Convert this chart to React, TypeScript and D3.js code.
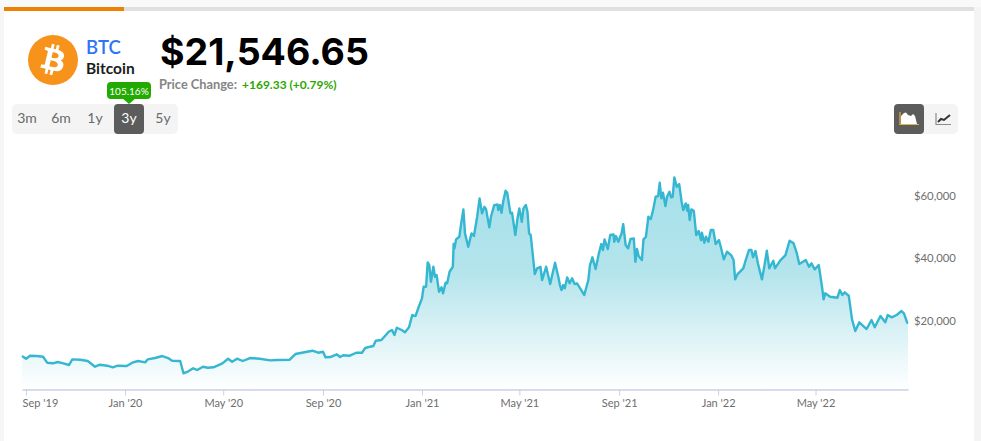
// @ts-nocheck
import React, { useEffect, useRef } from 'react';
import * as d3 from 'd3'

const FONT = "Lato, 'Open Sans', sans-serif"
const BIG_FONT = "Inter, Lato, sans-serif"
const BTC_PATH = "M46.11 27.441c.636-4.258-2.606-6.547-7.039-8.074l1.438-5.768-3.511-.875-1.4 5.616c-.923-.23-1.871-.447-2.813-.662l1.41-5.653-3.509-.875-1.439 5.766c-.764-.174-1.514-.346-2.242-.527l.004-.018-4.842-1.209-.934 3.75s2.605.597 2.55.634c1.422.355 1.679 1.296 1.636 2.042l-1.638 6.571c.098.025.225.061.365.117-.117-.029-.242-.061-.371-.092l-2.296 9.205c-.174.432-.615 1.08-1.609.834.035.051-2.552-.637-2.552-.637l-1.743 4.019 4.569 1.139c.85.213 1.683.436 2.503.646l-1.453 5.834 3.507.875 1.439-5.772c.958.26 1.888.5 2.798.726l-1.434 5.745 3.511.875 1.453-5.823c5.987 1.133 10.489.676 12.384-4.739 1.527-4.36-.076-6.875-3.226-8.515 2.294-.529 4.022-2.038 4.483-5.155zM38.09 38.69c-1.085 4.36-8.426 2.003-10.806 1.412l1.928-7.729c2.38.594 10.013 1.77 8.878 6.317zm1.086-11.312c-.99 3.966-7.1 1.951-9.082 1.457l1.748-7.01c1.982.494 8.367 1.416 7.334 5.553z"

const startDate = new Date(2019, 7, 27)
const endDay = 1092

// days since startDate
const days = [
    0, 5, 10, 18, 26, 31, 38, 44, 51, 58, 62, 72, 81, 90, 96, 105, 112, 118, 129, 136,
    143, 152, 155, 164, 173, 180, 185, 195, 199, 205, 211, 216, 223, 229, 236, 247, 254, 259, 265, 272,
    281, 293, 306, 314, 330, 337, 345, 358, 365, 371, 374, 380, 388, 392, 396, 404, 412, 419, 423, 429,
    433, 436, 443, 452, 456, 459, 462, 468, 472, 477, 481, 485, 489, 493, 495, 498, 500, 502, 504, 507,
    509, 511, 514, 517, 519, 522, 524, 527, 531, 532, 533, 535, 539, 541, 544, 546, 550, 554, 557, 561,
    564, 567, 570, 572, 576, 578, 582, 586, 587, 589, 591, 593, 596, 598, 602, 604, 608, 611, 613, 616,
    618, 621, 623, 625, 627, 630, 632, 635, 639, 641, 646, 651, 654, 657, 661, 663, 665, 667, 669, 672,
    675, 678, 681, 684, 688, 693, 698, 700, 703, 707, 711, 714, 716, 718, 722, 725, 729, 730, 732, 735,
    739, 741, 744, 747, 750, 754, 756, 758, 760, 764, 766, 769, 772, 775, 778, 781, 784, 786, 788, 790,
    793, 795, 798, 800, 802, 804, 807, 810, 813, 815, 818, 820, 821, 823, 825, 828, 831, 834, 837, 838,
    841, 843, 846, 849, 852, 855, 859, 861, 865, 869, 874, 877, 879, 882, 889, 892, 896, 899, 901, 904,
    907, 912, 915, 918, 921, 926, 928, 935, 941, 946, 951, 955, 958, 966, 970, 973, 977, 982, 986, 988,
    990, 996, 1005, 1008, 1011, 1014, 1019, 1023, 1027, 1032, 1041, 1047, 1051, 1058, 1064, 1067, 1072, 1078, 1084, 1087,
    1091, 1092,
]

const prices = [
    10740, 9880, 10840, 10740, 10520, 8600, 8400, 8820, 8400, 7860, 9680, 9560, 9140, 7310, 7950, 7630, 7120, 7630, 7540, 8600,
    9140, 8720, 9680, 10100, 10740, 10100, 9240, 9140, 5200, 5840, 6800, 6250, 7310, 6990, 7120, 8400, 9880, 8920, 9880, 9140,
    10100, 9880, 9360, 9460, 9560, 11380, 11800, 12440, 11800, 12120, 10330, 10420, 11290, 10420, 10970, 10840, 11800, 11800, 13310, 13730,
    13950, 15650, 15870, 18540, 19080, 17480, 19820, 19080, 18340, 19950, 23890, 23570, 26550, 29250, 32970, 32970, 40790, 39930, 34570, 39380,
    36180, 36720, 31360, 32780, 30850, 34250, 34060, 37780, 39380, 46660, 45280, 48170, 49000, 52760, 57790, 50090, 45800, 50090, 49230, 55420,
    61320, 56510, 58620, 57790, 52020, 55420, 59170, 59390, 57560, 59170, 56700, 60230, 63760, 63110, 56510, 56700, 49550, 55420, 58110, 53810,
    58110, 59170, 57020, 50090, 49550, 42080, 37040, 38870, 39380, 35120, 39380, 33830, 37270, 40660, 36180, 33510, 31910, 33510, 32450, 35980,
    34060, 35660, 33830, 34060, 32450, 30310, 35120, 39930, 42400, 38640, 43680, 46660, 44740, 48170, 45060, 49550, 49770, 47400, 49230, 47400,
    50090, 53070, 46340, 45280, 48270, 48490, 40990, 45060, 42810, 41530, 48170, 49000, 55420, 54680, 57790, 61830, 62060, 66320, 61320, 63110,
    58850, 61830, 63430, 61640, 61830, 68050, 65040, 65900, 60230, 57560, 59710, 57340, 59170, 54360, 57790, 57340, 49550, 50830, 47940, 50290,
    47080, 49000, 47400, 51150, 51150, 46660, 47940, 46020, 41750, 44190, 43130, 41530, 35340, 37040, 38870, 41530, 44740, 44740, 42400, 44420,
    40470, 35340, 39610, 44510, 38870, 41310, 38870, 41530, 43130, 47720, 46890, 43680, 40250, 41530, 39380, 40470, 38550, 39930, 32970, 28930,
    30850, 29760, 29440, 31910, 30310, 31170, 30080, 22510, 18760, 21550, 19400, 22290, 19950, 23570, 21550, 23890, 23150, 23890, 25170, 24440,
    21420, 21550,
]

const xTicks = [new Date(2019, 8, 1), new Date(2020, 0, 1), new Date(2020, 4, 1), new Date(2020, 8, 1), new Date(2021, 0, 1), new Date(2021, 4, 1), new Date(2021, 8, 1), new Date(2022, 0, 1), new Date(2022, 4, 1)]
const yTicks = [20000, 40000, 60000]
const ranges = ["3m", "6m", "1y", "3y", "5y"]

export default function App() {
    const ref = useRef(null)

    useEffect(() => {
        const svg = d3.select(ref.current)
        svg.selectAll("*").remove()

        const data = days.map((d, i) => ({ date: d3.timeDay.offset(startDate, d), price: prices[i] }))

        const x = d3.scaleTime().domain([startDate, d3.timeDay.offset(startDate, endDay)]).range([22, 908])
        const y = d3.scaleLinear().domain([0, 70000]).range([389.5, 171.3])

        const grad = svg.append("defs").append("linearGradient")
            .attr("id", "areaFill")
            .attr("gradientUnits", "userSpaceOnUse")
            .attr("x1", 0).attr("x2", 0).attr("y1", y(68000)).attr("y2", y(0))
        grad.append("stop").attr("offset", "0%").attr("stop-color", "#a6e0ea")
        grad.append("stop").attr("offset", "45%").attr("stop-color", "#b4e4ec")
        grad.append("stop").attr("offset", "100%").attr("stop-color", "#ffffff")

        // card
        svg.append("rect").attr("width", 981).attr("height", 441).attr("fill", "#ffffff")
        svg.append("rect").attr("x", 0).attr("width", 4).attr("y", 6).attr("height", 435).attr("fill", "#f6f6f6")
        svg.append("rect").attr("x", 974).attr("width", 7).attr("y", 0).attr("height", 441).attr("fill", "#f4f4f4")
        svg.append("rect").attr("x", 0).attr("y", 0).attr("width", 981).attr("height", 7).attr("fill", "#f9f9f9")
        svg.append("rect").attr("x", 4).attr("y", 7).attr("width", 970).attr("height", 4).attr("fill", "#e0e0e0")
        svg.append("rect").attr("x", 4).attr("y", 7).attr("width", 120).attr("height", 4).attr("fill", "#ec8106")

        // coin + name
        svg.append("circle").attr("cx", 53).attr("cy", 60).attr("r", 25).attr("fill", "#f7931a")
        svg.append("path").attr("d", BTC_PATH).attr("fill", "#ffffff")
            .attr("transform", "translate(28,35) scale(0.78)")

        const text = (str, px, py, size, weight, color, anchor = "start", family = FONT) =>
            svg.append("text").text(str).attr("x", px).attr("y", py)
                .attr("font-family", family).attr("font-size", size).attr("font-weight", weight)
                .attr("fill", color).attr("text-anchor", anchor)

        text("BTC", 86, 53.5, 18.5, 600, "#2f74f5")
        text("Bitcoin", 86, 74, 15.5, 700, "#1c1c1c")
        text("$21,546.65", 160, 65, 37.5, 700, "#000000", "start", BIG_FONT)
        text("Price Change:", 159, 89, 12.8, 700, "#858585")
        text("+169.33 (+0.79%)", 242, 89, 12, 700, "#2ca600")

        // range buttons
        svg.append("rect").attr("x", 12).attr("y", 104).attr("width", 166).attr("height", 30).attr("rx", 5).attr("fill", "#f4f4f4")
        svg.append("rect").attr("x", 114).attr("y", 104).attr("width", 30).attr("height", 30).attr("rx", 4).attr("fill", "#5c5c5c")
        ranges.forEach((r, i) => text(r, 27 + i * 34, 123, 14, 400, r === "3y" ? "#ffffff" : "#6a6a6a", "middle"))

        // percent badge
        svg.append("path").attr("d", "M122,98 L129,104 L136,98 Z").attr("fill", "#22aa00")
        svg.append("rect").attr("x", 107).attr("y", 82).attr("width", 44).attr("height", 17).attr("rx", 4).attr("fill", "#22aa00")
        text("105.16%", 129, 94.5, 10, 400, "#ffffff", "middle")

        // chart type buttons
        svg.append("rect").attr("x", 894).attr("y", 104).attr("width", 64).attr("height", 30).attr("rx", 5).attr("fill", "#f4f4f4")
        svg.append("rect").attr("x", 894).attr("y", 104).attr("width", 30).attr("height", 30).attr("rx", 4).attr("fill", "#5c5c5c")
        svg.append("path").attr("d", "M901,124 L901,116 L904,113 L906,112.5 L908,115 L911,116 L913,114 L915,116 L917,124 Z").attr("fill", "#ffffff")
        svg.append("path").attr("d", "M900,112 V124.5 H919").attr("fill", "none").attr("stroke", "#e8b24a").attr("stroke-width", 1.2)
        svg.append("path").attr("d", "M936,113 V124.5 H951").attr("fill", "none").attr("stroke", "#8a8a8a").attr("stroke-width", 1.2)
        svg.append("path").attr("d", "M938,122 L941,119 L944,120 L950,115").attr("fill", "none").attr("stroke", "#333333").attr("stroke-width", 2)

        // area + line
        svg.append("path")
            .datum(data)
            .attr("fill", "url(#areaFill)")
            .attr("d", d3.area().x(d => x(d.date)).y0(y(0)).y1(d => y(d.price)))
        svg.append("path")
            .datum(data)
            .attr("fill", "none")
            .attr("stroke", "#35b7d1")
            .attr("stroke-width", 2.4)
            .attr("stroke-linejoin", "round")
            .attr("d", d3.line().x(d => x(d.date)).y(d => y(d.price)))

        // X axis
        const xAxis = svg.append("g")
            .attr("transform", `translate(0,${y(0)})`)
            .call(d3.axisBottom(x).tickValues(xTicks).tickFormat(d3.timeFormat("%b '%y")).tickSize(6).tickPadding(4).tickSizeOuter(0))
        xAxis.select(".domain").attr("stroke", "#c9d0e4").attr("stroke-width", 1.5)
        xAxis.selectAll(".tick line").attr("stroke", "#c9d0e4")
        xAxis.selectAll(".tick text").attr("font-family", FONT).attr("font-size", 11).attr("fill", "#6e6e6e")
        xAxis.selectAll(".tick text").filter((d, i) => i === 0).attr("text-anchor", "start").attr("x", -4)

        // Y axis, labels sit above the value they mark
        const yAxis = svg.append("g")
            .attr("transform", "translate(914,0)")
            .call(d3.axisRight(y).tickValues(yTicks).tickFormat(d3.format("$,")).tickSize(0).tickPadding(0))
        yAxis.select(".domain").remove()
        yAxis.selectAll(".tick text").attr("font-family", FONT).attr("font-size", 11.3).attr("fill", "#6e6e6e").attr("dy", "-0.28em")
    }, [])

    return <svg ref={ref} width={981} height={441} style={{ position: "absolute", left: 0, top: 0 }} />
}
